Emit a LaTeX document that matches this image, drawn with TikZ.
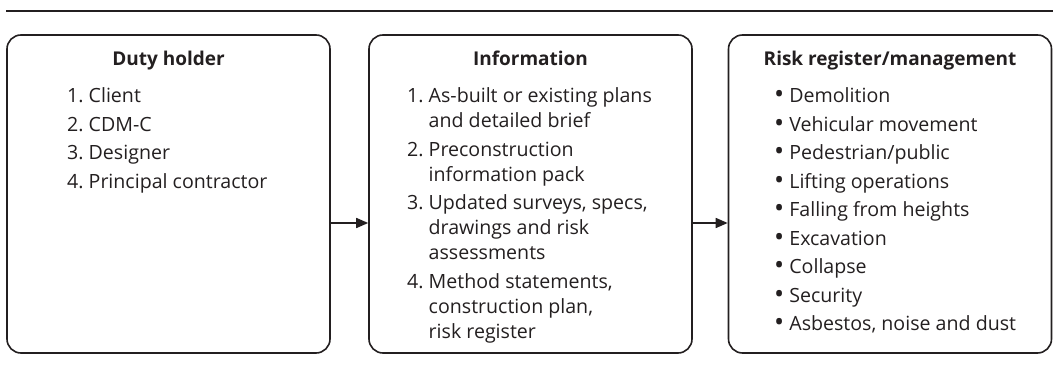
\documentclass[tikz,border=0pt]{standalone}
\usepackage{fontspec}
\setmainfont{Open Sans}
\usetikzlibrary{arrows.meta,positioning,calc}
\definecolor{ink}{HTML}{231F20}
\newcommand{\gap}{\\[3.5pt]}
\newcommand{\blt}{{\fontsize{27}{25}\selectfont\raisebox{-1pt}{\textbullet}}}

\begin{document}
\begin{tikzpicture}[
  x=1pt,y=1pt,
  every node/.style={text=ink},
  panel/.style={draw=ink,line width=1.6pt,rounded corners=14pt,
               minimum width=323pt,minimum height=318pt,inner sep=0pt},
  head/.style={font=\fontsize{19}{22}\selectfont\bfseries,anchor=base,inner sep=0pt},
  items/.style={font=\fontsize{19.6}{25}\selectfont,anchor=base west,inner sep=0pt},
  arr/.style={-{Triangle[length=12pt,width=10pt]},line width=1.6pt,draw=ink}
]
\useasboundingbox (0,0) rectangle (1053,-387);

% top rule
\coordinate (ruleL) at (6,-11);
\coordinate (ruleR) at (1053,-11);
\draw[line width=1.6pt,draw=ink] (ruleL) -- (ruleR);

% LEFT: who holds the duty
\node[panel] (b1) at (168.5,-194) {};
\node[head] (h1) at ([yshift=-31.5pt]b1.north) {Duty holder};
\node[items] (l1) at (67,-103) {\begin{tabular}[t]{@{}r@{\ }l@{}}
  1.& Client\gap
  2.& CDM-C\gap
  3.& Designer\gap
  4.& Principal contractor
\end{tabular}};

% MIDDLE: information passed on
\node[panel] (b2) at (530.5,-194) {};
\node[head] (h2) at ([yshift=-31.5pt]b2.north) {Information};
\node[items] (l2) at (407,-103) {\begin{tabular}[t]{@{}r@{\ }l@{}}
  1.& As-built or existing plans\\
    & and detailed brief\gap
  2.& Preconstruction\\
    & information pack\gap
  3.& Updated surveys, specs,\\
    & drawings and risk\\
    & assessments\gap
  4.& Method statements,\\
    & construction plan,\\
    & risk register
\end{tabular}};

% RIGHT: risks to manage
\node[panel] (b3) at (890,-194) {};
\node[head] (h3) at ([yshift=-31.5pt]b3.north) {Risk register/management};
\node[items] (l3) at (774,-103) {\begin{tabular}[t]{@{}l@{\hspace{5pt}}l@{}}
  \blt& Demolition\gap
  \blt& Vehicular movement\gap
  \blt& Pedestrian/public\gap
  \blt& Lifting operations\gap
  \blt& Falling from heights\gap
  \blt& Excavation\gap
  \blt& Collapse\gap
  \blt& Security\gap
  \blt& Asbestos, noise and dust
\end{tabular}};

\draw[arr] ([yshift=-29pt]b1.east) -- ([yshift=-29pt]b2.west);
\draw[arr] ([yshift=-29pt]b2.east) -- ([yshift=-29pt]b3.west);
\end{tikzpicture}
\end{document}
